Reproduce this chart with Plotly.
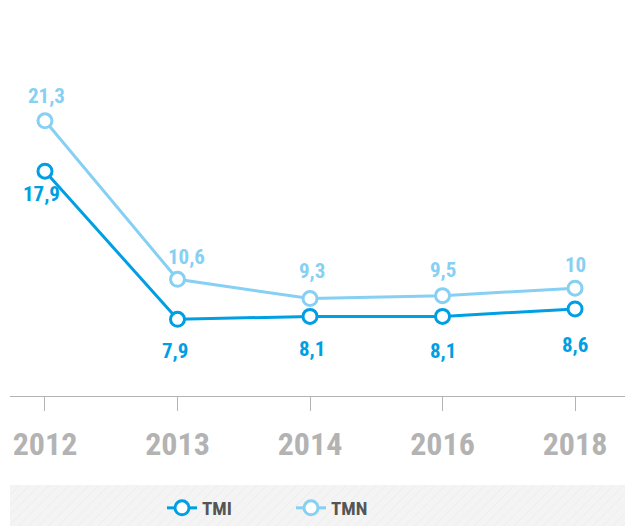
import plotly.graph_objects as go

years = ["2012", "2013", "2014", "2016", "2018"]
tmi = [17.9, 7.9, 8.1, 8.1, 8.6]
tmn = [21.3, 10.6, 9.3, 9.5, 10.0]
tmi_labels = ["17,9", "7,9", "8,1", "8,1", "8,6"]
tmn_labels = ["21,3", "10,6", "9,3", "9,5", "10"]

C_TMI = "#009fe3"
C_TMN = "#86d0f3"
FONT = "Roboto Condensed, DejaVu Sans Condensed, Roboto, sans-serif"

# per-label offsets (px), styling only
tmi_shift = [-23, -32, -33, -35, -36]
tmn_shift = [25, 22, 28, 26, 23]
tmi_xshift = [-3, -3, 2, 0, 0]
tmn_xshift = [2, 9, 2, 0, 0]

fig = go.Figure()

fig.add_trace(go.Scatter(
    x=years, y=tmi, name="<b>TMI</b>", mode="lines+markers",
    line=dict(color=C_TMI, width=3),
    marker=dict(symbol="circle", size=14, color="white", line=dict(color=C_TMI, width=3)),
))
fig.add_trace(go.Scatter(
    x=years, y=tmn, name="<b>TMN</b>", mode="lines+markers",
    line=dict(color=C_TMN, width=3),
    marker=dict(symbol="circle", size=14, color="white", line=dict(color=C_TMN, width=3)),
))

# hatched legend band
fig.add_trace(go.Bar(
    x=[0], y=[1], width=[1], xaxis="x2", yaxis="y2", showlegend=False,
    marker=dict(color="#f4f4f4", line=dict(width=0),
                pattern=dict(shape="/", fgcolor="#d9d9d9", bgcolor="#f4f4f4", size=7, solidity=0.08)),
    hoverinfo="skip",
))

annotations = []
for i, (v, t, s, xs) in enumerate(zip(tmi, tmi_labels, tmi_shift, tmi_xshift)):
    annotations.append(dict(x=i, y=v, xref="x", yref="y", text="<b>%s</b>" % t, showarrow=False,
                            yshift=s, xshift=xs, font=dict(family=FONT, size=21, color=C_TMI)))
for i, (v, t, s, xs) in enumerate(zip(tmn, tmn_labels, tmn_shift, tmn_xshift)):
    annotations.append(dict(x=i, y=v, xref="x", yref="y", text="<b>%s</b>" % t, showarrow=False,
                            yshift=s, xshift=xs, font=dict(family=FONT, size=21, color=C_TMN)))

W, H = 625, 527
top_px = 20
plot_bottom = 397
band_top = 486
fig.update_layout(
    width=W, height=H,
    margin=dict(l=10, r=0, t=top_px, b=0),
    paper_bgcolor="white", plot_bgcolor="white",
    showlegend=True,
    legend=dict(orientation="h", x=(162 - 10) / 615, xanchor="left",
                y=(H - 509) / (H - top_px), yanchor="middle",
                bgcolor="rgba(0,0,0,0)", font=dict(family=FONT, size=19, color="#555555"),
                entrywidth=84, entrywidthmode="pixels", tracegroupgap=0),
    xaxis=dict(type="category", range=[-0.264, 4.377], showgrid=False, zeroline=False,
               showline=True, linecolor="#b3b3b3", linewidth=1,
               ticks="outside", ticklen=14, tickcolor="#b3b3b3", tickwidth=1,
               tickfont=dict(family=FONT, size=32, color="#b3b3b3"),
               tickprefix="<b>", ticksuffix="</b>", ticklabelstandoff=5,
               domain=[0, 1], anchor="y"),
    yaxis=dict(range=[2.71, 28.1], showgrid=False, zeroline=False, showticklabels=False,
               showline=False, domain=[(H - plot_bottom) / (H - top_px), 1]),
    xaxis2=dict(range=[-0.5, 0.5], domain=[0, 1], anchor="y2", visible=False, fixedrange=True),
    yaxis2=dict(range=[0, 1], domain=[0, (H - band_top) / (H - top_px)], anchor="x2",
                visible=False, fixedrange=True),
    annotations=annotations,
    bargap=0,
)

fig.write_html(
    "out.html",
    config={"displayModeBar": False},
    post_script="document.body.style.margin='0';document.body.style.overflow='hidden';",
)
